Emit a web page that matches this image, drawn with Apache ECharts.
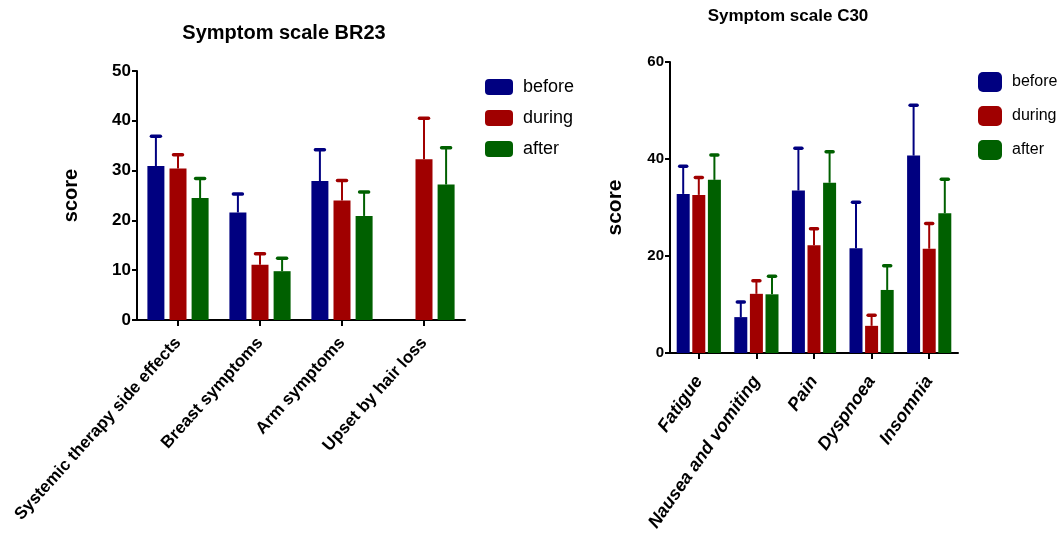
<!DOCTYPE html>
<html>
<head>
<meta charset="utf-8">
<script src="https://cdn.jsdelivr.net/npm/echarts@6/dist/echarts.min.js"></script>
<style>
html,body{margin:0;padding:0;background:#fff;}
#chart{width:1063px;height:537px;}
</style>
</head>
<body>
<div id="chart"></div>
<script>
// ---- Data: Symptom scale BR23 ----
const br23Categories = ['Systemic therapy side effects', 'Breast symptoms', 'Arm symptoms', 'Upset by hair loss'];
const br23Before = [30.9, 21.6, 27.9, null];
const br23BeforeSD = [6.0, 3.7, 6.3, null];
const br23During = [30.4, 11.1, 24.0, 32.3];
const br23DuringSD = [2.8, 2.2, 4.0, 8.2];
const br23After = [24.5, 9.8, 20.9, 27.2];
const br23AfterSD = [3.9, 2.6, 4.8, 7.4];
const br23Ticks = [0, 10, 20, 30, 40, 50];

// ---- Data: Symptom scale C30 ----
const c30Categories = ['Fatigue', 'Nausea and vomiting', 'Pain', 'Dyspnoea', 'Insomnia'];
const c30Before = [32.8, 7.4, 33.5, 21.6, 40.7];
const c30BeforeSD = [5.7, 3.1, 8.7, 9.5, 10.4];
const c30During = [32.6, 12.2, 22.2, 5.6, 21.5];
const c30DuringSD = [3.6, 2.7, 3.4, 2.2, 5.2];
const c30After = [35.7, 12.1, 35.1, 13.0, 28.8];
const c30AfterSD = [5.1, 3.7, 6.4, 5.0, 7.0];
const c30Ticks = [0, 20, 40, 60];

const seriesNames = ['before', 'during', 'after'];
</script>
<script>
const COLORS = ['#000080', '#a00000', '#006000'];
const SANS = '"Liberation Sans", Arial, sans-serif';

const LEFT = {barW: 17, gap: 5.1, cap: 9};
const RIGHT = {barW: 13, gap: 2.6, cap: 7};

function errData(means, sds) {
  const out = [];
  means.forEach((m, i) => { if (m != null) out.push([i, m, sds[i]]); });
  return out;
}
function errRenderer(k, geo, color) {
  return function (params, api) {
    const i = api.value(0), m = api.value(1), sd = api.value(2);
    const base = api.coord([i, m]);
    const top = api.coord([i, m + sd]);
    const x = base[0] + (k - 1) * (geo.barW + geo.gap);
    return {
      type: 'group',
      children: [
        {type: 'line', shape: {x1: x, y1: base[1], x2: x, y2: top[1]}, style: {stroke: color, lineWidth: 2}},
        {type: 'line', shape: {x1: x - geo.cap / 2, y1: top[1], x2: x + geo.cap / 2, y2: top[1]},
         style: {stroke: color, lineWidth: 3.5, lineCap: 'round'}}
      ]
    };
  };
}

const leftMeans = [br23Before, br23During, br23After];
const leftSDs = [br23BeforeSD, br23DuringSD, br23AfterSD];
const rightMeans = [c30Before, c30During, c30After];
const rightSDs = [c30BeforeSD, c30DuringSD, c30AfterSD];

const series = [];
seriesNames.forEach((name, k) => {
  series.push({
    name, type: 'bar', xAxisIndex: 0, yAxisIndex: 0, data: leftMeans[k],
    barWidth: LEFT.barW, barGap: '30%', itemStyle: {color: COLORS[k]}, silent: true
  });
});
seriesNames.forEach((name, k) => {
  series.push({
    name, type: 'bar', xAxisIndex: 1, yAxisIndex: 1, data: rightMeans[k],
    barWidth: RIGHT.barW, barGap: '20%', itemStyle: {color: COLORS[k]}, silent: true
  });
});
seriesNames.forEach((name, k) => {
  series.push({
    name, type: 'custom', xAxisIndex: 0, yAxisIndex: 0, data: errData(leftMeans[k], leftSDs[k]),
    renderItem: errRenderer(k, LEFT, COLORS[k]), z: 3, silent: true
  });
  series.push({
    name, type: 'custom', xAxisIndex: 1, yAxisIndex: 1, data: errData(rightMeans[k], rightSDs[k]),
    renderItem: errRenderer(k, RIGHT, COLORS[k]), z: 3, silent: true
  });
});

const axisLine = {show: true, lineStyle: {color: '#000', width: 2}};
const axisTick = {show: true, lineStyle: {color: '#000', width: 2}, length: 5};

const option = {
  animation: false,
  backgroundColor: '#fff',
  title: [
    {text: 'Symptom scale BR23', left: 284, top: 23, textAlign: 'center', padding: 0,
     textStyle: {fontFamily: SANS, fontWeight: 'bold', fontSize: 20, color: '#000'}},
    {text: 'Symptom scale C30', left: 788, top: 8, textAlign: 'center', padding: 0,
     textStyle: {fontFamily: SANS, fontWeight: 'bold', fontSize: 17, color: '#000'}}
  ],
  legend: [
    {orient: 'vertical', left: 485, top: 78, itemWidth: 28, itemHeight: 16, itemGap: 13, padding: 0,
     icon: 'roundRect', selectedMode: false,
     data: seriesNames.map((n, k) => ({name: n, itemStyle: {color: COLORS[k]}})),
     textStyle: {fontFamily: SANS, fontSize: 18, color: '#000', padding: [0, 0, 0, 5]}},
    {orient: 'vertical', left: 978, top: 72, itemWidth: 24, itemHeight: 20, itemGap: 14, padding: 0,
     icon: 'roundRect', selectedMode: false,
     data: seriesNames.map((n, k) => ({name: n, itemStyle: {color: COLORS[k]}})),
     textStyle: {fontFamily: SANS, fontSize: 16, color: '#000', padding: [0, 0, 0, 5]}}
  ],
  grid: [
    {left: 137, top: 71, width: 328, height: 249},
    {left: 670, top: 62, width: 288, height: 291}
  ],
  xAxis: [
    {type: 'category', gridIndex: 0, data: br23Categories, axisLine,
     axisTick: {show: true, alignWithLabel: true, length: 6, lineStyle: {color: '#000', width: 2}},
     axisLabel: {rotate: 48, margin: 20, interval: 0, fontFamily: SANS, fontWeight: 'bold', fontSize: 17, color: '#000'}},
    {type: 'category', gridIndex: 1, data: c30Categories, axisLine,
     axisTick: {show: true, alignWithLabel: true, length: 6, lineStyle: {color: '#000', width: 2}},
     axisLabel: {rotate: 55, margin: 25, interval: 0, fontFamily: SANS, fontWeight: 'bold', fontStyle: 'italic', fontSize: 18, color: '#000'}}
  ],
  yAxis: [
    {type: 'value', gridIndex: 0, min: br23Ticks[0], max: br23Ticks[br23Ticks.length - 1], interval: br23Ticks[1] - br23Ticks[0],
     name: 'score', nameLocation: 'middle', nameGap: 56,
     nameTextStyle: {fontFamily: SANS, fontWeight: 'bold', fontSize: 20, color: '#000'},
     axisLine, axisTick, splitLine: {show: false},
     axisLabel: {margin: 6, fontFamily: SANS, fontWeight: 'bold', fontSize: 17, color: '#000'}},
    {type: 'value', gridIndex: 1, min: c30Ticks[0], max: c30Ticks[c30Ticks.length - 1], interval: c30Ticks[1] - c30Ticks[0],
     name: 'score', nameLocation: 'middle', nameGap: 44,
     nameTextStyle: {fontFamily: SANS, fontWeight: 'bold', fontSize: 21, color: '#000'},
     axisLine, axisTick, splitLine: {show: false},
     axisLabel: {margin: 6, fontFamily: SANS, fontWeight: 'bold', fontSize: 15, color: '#000'}}
  ],
  series
};

const chart = echarts.init(document.getElementById('chart'), null, {renderer: 'canvas'});
chart.setOption(option);
</script>
</body>
</html>
